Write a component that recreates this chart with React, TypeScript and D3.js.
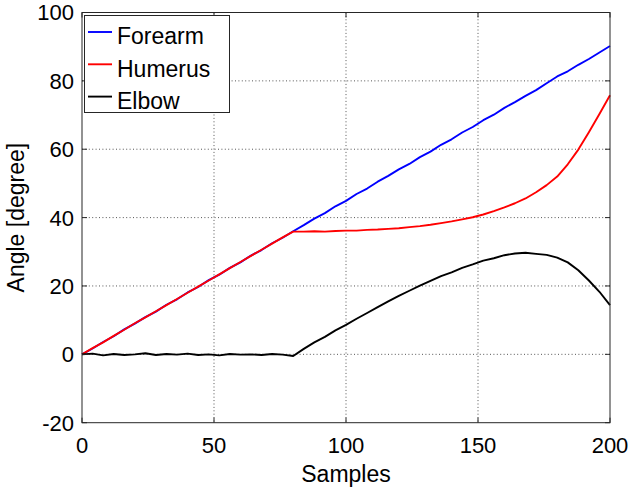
import React from "react";
import * as d3 from "d3";

const samples: number[] = [
  0, 4, 8, 12, 16, 20, 24, 28, 32, 36, 40, 44, 48, 52, 56, 60, 64, 68, 72, 76,
  80, 84, 88, 92, 96, 100, 104, 108, 112, 116, 120, 124, 128, 132, 136, 140,
  144, 148, 152, 156, 160, 164, 168, 172, 176, 180, 184, 188, 192, 196, 200,
];

const forearm: number[] = [
  0.0, 1.7, 3.6, 5.3, 7.3, 9.0, 10.9, 12.5, 14.5, 16.1, 18.1, 19.7, 21.7, 23.3,
  25.3, 26.9, 28.9, 30.5, 32.5, 34.1, 36.0, 37.8, 39.7, 41.3, 43.3, 44.9, 46.9,
  48.5, 50.5, 52.2, 54.1, 55.7, 57.7, 59.3, 61.3, 62.9, 64.9, 66.5, 68.5, 70.1,
  72.1, 73.8, 75.6, 77.3, 79.3, 81.3, 82.8, 84.7, 86.4, 88.3, 90.2,
];

const humerus: number[] = [
  0.0, 1.8, 3.5, 5.4, 7.2, 9.1, 10.8, 12.6, 14.4, 16.2, 18.0, 19.8, 21.6, 23.4,
  25.2, 27.0, 28.8, 30.6, 32.4, 34.2, 35.9, 35.9, 36.0, 35.9, 36.1, 36.2, 36.2,
  36.4, 36.5, 36.7, 36.9, 37.2, 37.5, 37.9, 38.4, 38.9, 39.5, 40.1, 40.9, 41.9,
  43.0, 44.2, 45.6, 47.4, 49.5, 52.0, 55.6, 59.9, 65.0, 70.3, 75.8,
];

const elbow: number[] = [
  0.0, 0.2, -0.3, 0.1, -0.2, 0.0, 0.3, -0.2, 0.1, -0.1, 0.2, -0.2, 0.0, -0.3,
  0.1, -0.1, 0.0, -0.2, 0.1, -0.1, -0.5, 1.6, 3.5, 5.1, 7.0, 8.6, 10.4, 12.1,
  13.8, 15.5, 17.1, 18.6, 20.1, 21.5, 22.9, 24.0, 25.3, 26.3, 27.4, 28.1, 29.0,
  29.5, 29.7, 29.4, 29.1, 28.3, 26.9, 24.6, 21.6, 18.3, 14.4,
];

const xTicks: number[] = [0, 50, 100, 150, 200];
const yTicks: number[] = [-20, 0, 20, 40, 60, 80, 100];

const seriesNames: string[] = ["Forearm", "Humerus", "Elbow"];
const seriesColors: string[] = ["#0000ff", "#ff0000", "#000000"];

export default function App() {
  const W = 632;
  const H = 487;
  const left = 82;
  const right = 610;
  const top = 12.5;
  const bottom = 422.7;
  const x = d3.scaleLinear().domain([0, 200]).range([left, right]);
  const y = d3.scaleLinear().domain([-20, 100]).range([bottom, top]);
  const font = "'Liberation Sans', Arial, Helvetica, sans-serif";
  const axisColor = "#262626";
  const tickLen = 5;

  const seriesData = [forearm, humerus, elbow];
  const line = d3
    .line<number>()
    .x((_, i) => x(samples[i]))
    .y((d) => y(d));

  return (
    <svg
      width={W}
      height={H}
      style={{ position: "absolute", left: 0, top: 0, background: "#fff" }}
    >
      <rect x={0} y={0} width={W} height={H} fill="#fff" />
      {/* grid */}
      {xTicks.map((t) =>
        t > 0 && t < 200 ? (
          <line
            key={"gx" + t}
            x1={x(t)}
            x2={x(t)}
            y1={top}
            y2={bottom}
            stroke="#555"
            strokeWidth={1}
            strokeDasharray="1,2.4"
          />
        ) : null
      )}
      {yTicks.map((t) =>
        t > -20 && t < 100 ? (
          <line
            key={"gy" + t}
            x1={left}
            x2={right}
            y1={y(t)}
            y2={y(t)}
            stroke="#555"
            strokeWidth={1}
            strokeDasharray="1,2.4"
          />
        ) : null
      )}
      {/* series */}
      {seriesData.map((d, i) => (
        <path
          key={"s" + i}
          d={line(d) || ""}
          fill="none"
          stroke={seriesColors[i]}
          strokeWidth={1.9}
          strokeLinejoin="round"
        />
      ))}
      {/* axes box */}
      <rect
        x={left}
        y={top}
        width={right - left}
        height={bottom - top}
        fill="none"
        stroke={axisColor}
        strokeWidth={1}
      />
      {/* ticks */}
      {xTicks.map((t) => (
        <g key={"tx" + t}>
          <line x1={x(t)} x2={x(t)} y1={bottom} y2={bottom - tickLen} stroke={axisColor} />
          <line x1={x(t)} x2={x(t)} y1={top} y2={top + tickLen} stroke={axisColor} />
          <text
            x={x(t)}
            y={bottom + 30}
            textAnchor="middle"
            fontFamily={font}
            fontSize={22}
            fill="#000"
          >
            {t}
          </text>
        </g>
      ))}
      {yTicks.map((t) => (
        <g key={"ty" + t}>
          <line x1={left} x2={left + tickLen} y1={y(t)} y2={y(t)} stroke={axisColor} />
          <line x1={right} x2={right - tickLen} y1={y(t)} y2={y(t)} stroke={axisColor} />
          <text
            x={left - 8}
            y={y(t)}
            dy="0.36em"
            textAnchor="end"
            fontFamily={font}
            fontSize={22}
            fill="#000"
          >
            {t}
          </text>
        </g>
      ))}
      {/* axis labels */}
      <text
        x={(left + right) / 2}
        y={481.5}
        textAnchor="middle"
        fontFamily={font}
        fontSize={23}
        fill="#000"
      >
        Samples
      </text>
      <text
        transform={`translate(24,${(top + bottom) / 2}) rotate(-90)`}
        textAnchor="middle"
        fontFamily={font}
        fontSize={23}
        fill="#000"
      >
        Angle [degree]
      </text>
      {/* legend */}
      <rect x={84.5} y={15.5} width={145} height={97} fill="#fff" stroke={axisColor} strokeWidth={1} />
      {seriesNames.map((n, i) => (
        <g key={"lg" + i}>
          <line
            x1={88}
            x2={112}
            y1={32 + i * 32.3}
            y2={32 + i * 32.3}
            stroke={seriesColors[i]}
            strokeWidth={1.9}
          />
          <text
            x={117}
            y={44.3 + i * 32.3}
            fontFamily={font}
            fontSize={23}
            fill="#000"
          >
            {n}
          </text>
        </g>
      ))}
    </svg>
  );
}
